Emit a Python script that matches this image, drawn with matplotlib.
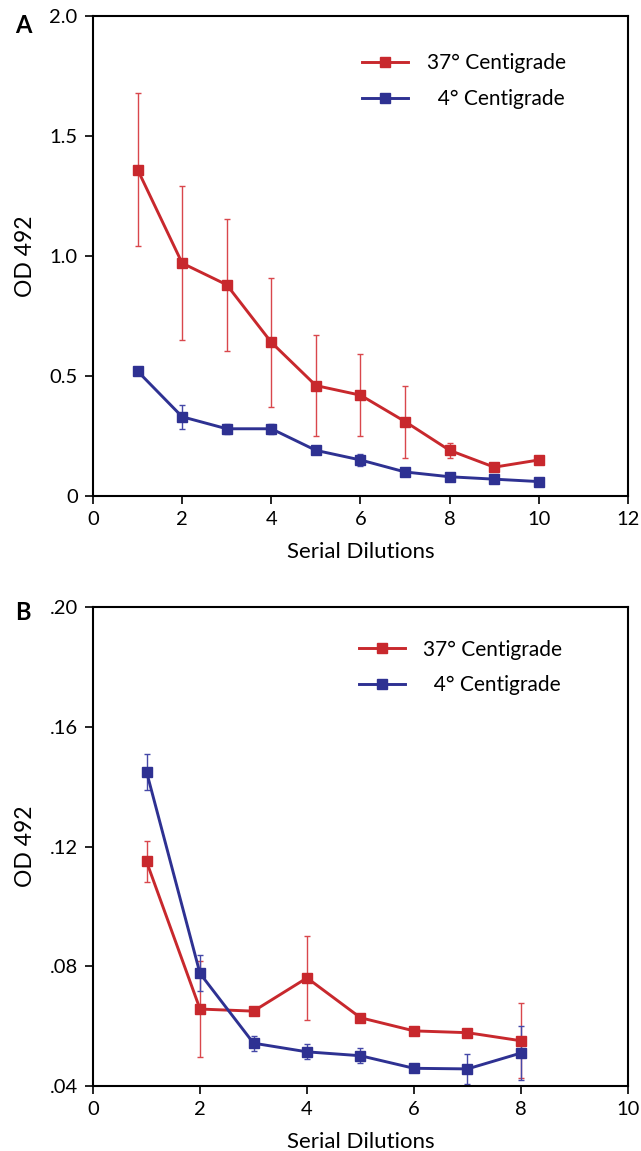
import matplotlib.pyplot as plt

plt.rcParams['font.family'] = ['Lato', 'DejaVu Sans']

# Panel A data
dil_a = [1, 2, 3, 4, 5, 6, 7, 8, 9, 10]
warm_a = [1.36, 0.97, 0.88, 0.64, 0.46, 0.42, 0.31, 0.19, 0.12, 0.15]
warm_a_err = [0.32, 0.32, 0.275, 0.27, 0.21, 0.17, 0.15, 0.03, 0.01, 0.01]
cold_a = [0.52, 0.33, 0.28, 0.28, 0.19, 0.15, 0.10, 0.08, 0.07, 0.06]
cold_a_err = [0.01, 0.05, 0.02, 0.02, 0.01, 0.025, 0.01, 0.005, 0.005, 0.005]

# Panel B data
dil_b = [1, 2, 3, 4, 5, 6, 7, 8]
warm_b = [0.115, 0.0657, 0.065, 0.0761, 0.0628, 0.0584, 0.0578, 0.0551]
warm_b_err = [0.007, 0.016, 0.001, 0.014, 0.0008, 0.0008, 0.0008, 0.0125]
cold_b = [0.145, 0.0776, 0.0543, 0.0514, 0.0501, 0.0459, 0.0457, 0.0510]
cold_b_err = [0.006, 0.006, 0.0025, 0.0025, 0.0025, 0.0008, 0.005, 0.009]

red = "#c8282d"
blue = "#2e3192"

fig = plt.figure(figsize=(6.41, 11.51), dpi=100)
ax_a = fig.add_axes([0.1451, 0.5691, 0.8346, 0.417])
ax_b = fig.add_axes([0.1451, 0.0565, 0.8346, 0.4161])


def draw(ax, x, warm, warm_err, cold, cold_err, leg_x, leg_y):
    # error bars first, then the lines with markers on top
    ax.errorbar(x, warm, yerr=warm_err, fmt="none", ecolor="#d9474c",
                elinewidth=1.0, capsize=2.5, capthick=1.0, zorder=2)
    ax.errorbar(x, cold, yerr=cold_err, fmt="none", ecolor="#4548a8",
                elinewidth=1.0, capsize=2.5, capthick=1.0, zorder=2)
    ax.plot(x, warm, color=red, lw=2.1, marker="s", ms=7.5,
            label="37\u00b0 Centigrade", zorder=3)
    ax.plot(x, cold, color=blue, lw=2.1, marker="s", ms=7.5,
            label="  4\u00b0 Centigrade", zorder=4)
    for s in ax.spines.values():
        s.set_linewidth(1.5)
    ax.tick_params(direction="out", length=6, width=1.2, pad=5, labelsize=14.5)
    ax.set_xlabel("Serial Dilutions", fontsize=16, labelpad=10)
    ax.set_ylabel("OD 492", fontsize=16.5, labelpad=10)
    ax.legend(loc="upper left", bbox_to_anchor=(leg_x, leg_y), frameon=False,
              fontsize=15, handlelength=2.2, handletextpad=0.9,
              labelspacing=0.75, borderpad=0, borderaxespad=0)


draw(ax_a, dil_a, warm_a, warm_a_err, cold_a, cold_a_err, 0.503, 0.922)
ax_a.set_xlim(0, 12)
ax_a.set_ylim(0, 2.0)
ax_a.set_xticks([0, 2, 4, 6, 8, 10, 12])
ax_a.set_yticks([0, 0.5, 1.0, 1.5, 2.0])
ax_a.set_yticklabels(["0", "0.5", "1.0", "1.5", "2.0"])

draw(ax_b, dil_b, warm_b, warm_b_err, cold_b, cold_b_err, 0.497, 0.932)
ax_b.set_xlim(0, 10)
ax_b.set_ylim(0.04, 0.20)
ax_b.set_xticks([0, 2, 4, 6, 8, 10])
ax_b.set_yticks([0.04, 0.08, 0.12, 0.16, 0.20])
ax_b.set_yticklabels([".04", ".08", ".12", ".16", ".20"])

fig.text(0.024, 0.988, "A", fontsize=17, fontweight="bold", va="top")
fig.text(0.024, 0.478, "B", fontsize=17, fontweight="bold", va="top")

fig.savefig("out.png", dpi=100)
